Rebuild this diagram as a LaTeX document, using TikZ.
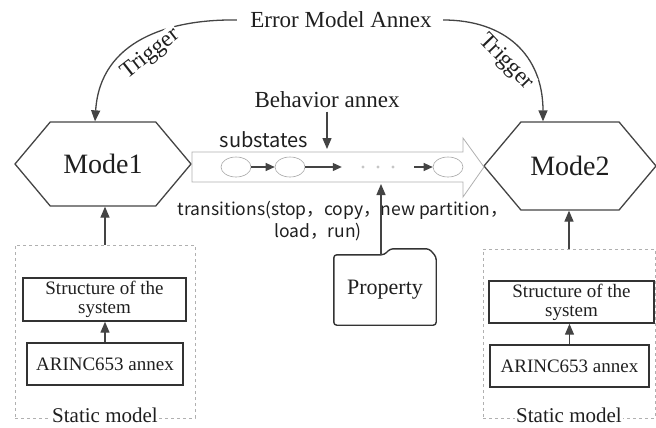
\documentclass[tikz,border=0pt]{standalone}
\usepackage{fontspec}
\setmainfont{Liberation Serif}
\newfontfamily\cjk{Noto Sans CJK SC}
\usetikzlibrary{shapes.symbols,shapes.geometric,arrows.meta}

\definecolor{linegray}{HTML}{444444}
\definecolor{lightline}{HTML}{B0B0B0}

\begin{document}
\begin{tikzpicture}
  [x=1pt,y=-1pt,
   every node/.style={text=black!88},
   mode/.style={signal,signal to=east and west,draw=linegray,line width=1.3pt,
     signal pointer angle=100,font=\fontsize{28}{30}\selectfont},
   sbox/.style={draw=black!80,line width=1.4pt,align=center,inner sep=1pt,
     font=\fontsize{19}{19}\selectfont},
   dbox/.style={draw=lightline,dashed,line width=.7pt},
   substate/.style={ellipse,draw=gray!70,line width=.6pt,minimum width=30pt,minimum height=20pt},
   arr/.style={-{Triangle[length=11pt,width=9pt]},line width=1.3pt,draw=linegray},
   sarr/.style={-{Triangle[length=9pt,width=8pt]},line width=1.1pt,draw=linegray},
   serif/.style={font=\fontsize{23}{26}\selectfont},
   sans/.style={font=\cjk\fontsize{17.5}{20}\selectfont}]

  \useasboundingbox (0,0) rectangle (656,428);

  % modes and annexes
  \node[serif] (err) at (341,20) {Error Model Annex};
  \node[mode,minimum width=176pt,minimum height=84pt] (mode1) at (103,164) {Mode1};
  \node[mode,minimum width=172pt,minimum height=88pt] (mode2) at (570,166) {Mode2};

  \draw[arr] ([xshift=-10pt]err.west) .. controls (170,19) and (100,40) .. ([xshift=-8pt]mode1.north);
  \draw[arr] ([xshift=8pt]err.east) .. controls (505,20) and (543,55) .. ([xshift=-27pt]mode2.north);
  \node[serif,fill=white,inner sep=1pt,rotate=38] (trigL) at (151,54) {Trigger};
  \node[serif,fill=white,inner sep=1pt,rotate=-46] (trigR) at (506,62) {Trigger};

  % behavior flow
  \draw[draw=lightline,line width=.8pt,fill=white]
    (192,152) -- (463,152) -- (463,138) -- (484,167) -- (463,197) -- (463,182) -- (192,182) -- cycle;
  \coordinate (bodytop) at (327,149);
  \coordinate (bodybot) at (381,184);

  \node[serif] (beh) at (327,100) {Behavior annex};
  \node[sans,font=\cjk\fontsize{20}{22}\selectfont] (subst) at (264,140) {substates};
  \draw[arr] (beh.south) -- (bodytop);

  \node[substate] (s1) at (236,167) {};
  \node[substate] (s2) at (290,167) {};
  \node[substate] (s3) at (448,167) {};
  \node[minimum width=72pt] (dots) at (378,167) {};
  \foreach \dx in {-15,0,15}
    \fill[gray!45] ([xshift=\dx pt]dots.center) circle (1.6pt);

  \draw[sarr] (s1) -- (s2);
  \draw[sarr] (s2) -- (dots.west);
  \draw[sarr] (dots.east) -- (s3);

  \node[sans] (trans1) at (343,210) {transitions(stop，copy，new partition，};
  \node[sans] (trans2) at (318,232) {load，run)};

  % property folder
  \node[minimum width=102pt,minimum height=70pt,font=\fontsize{22}{24}\selectfont] (prop) at (385,290) {Property};
  \draw[line width=1.4pt,draw=black!80,rounded corners=3pt]
    (prop.south west) -- (prop.north west) -- ([xshift=-52pt]prop.north east)
    -- ([xshift=-46pt,yshift=6pt]prop.north east) -- ([xshift=-7pt,yshift=6pt]prop.north east)
    -- ([yshift=-2pt]prop.north east) -- (prop.south east) -- cycle;
  \draw[arr] (prop.north -| bodybot) -- (bodybot);

  % static models
  \node[dbox,minimum width=180pt,minimum height=173pt] (stat1) at (105,331.5) {};
  \node[sbox,minimum width=163pt,minimum height=43pt] (struct1) at (104.5,299.5) {Structure of the\\system};
  \node[sbox,minimum width=156pt,minimum height=42pt] (arinc1) at (105,364) {ARINC653 annex};
  \node[fill=white,inner sep=1pt,font=\fontsize{21}{22}\selectfont] (lbl1) at ([yshift=3pt]stat1.south) {Static model};
  \draw[arr] (arinc1.north) -- (arinc1.north |- struct1.south);
  \draw[arr] (stat1.north) -- (stat1.north |- mode1.south);

  \node[dbox,minimum width=172pt,minimum height=169pt] (stat2) at (569,333.5) {};
  \node[sbox,minimum width=165pt,minimum height=42pt] (struct2) at (571.5,302) {Structure of the\\system};
  \node[sbox,minimum width=159pt,minimum height=42pt] (arinc2) at (569.5,366) {ARINC653 annex};
  \node[fill=white,inner sep=1pt,font=\fontsize{21}{22}\selectfont] (lbl2) at ([yshift=3pt]stat2.south) {Static model};
  \draw[arr] (arinc2.north) -- (arinc2.north |- struct2.south);
  \draw[arr] (stat2.north) -- (stat2.north |- mode2.south);
\end{tikzpicture}
\end{document}
